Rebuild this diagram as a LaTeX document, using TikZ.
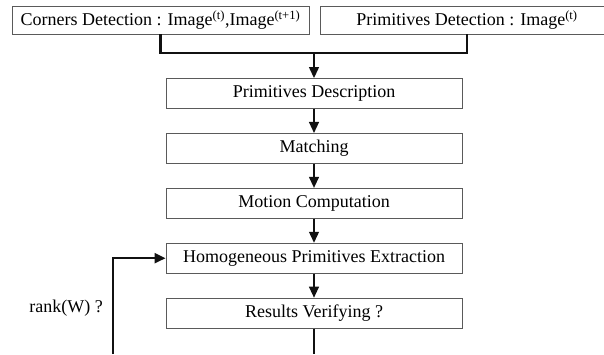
\documentclass[tikz,border=0pt]{standalone}
\usepackage{fontspec}
\setmainfont{Liberation Serif}
\usepackage{xcolor}
\usepackage{tikz}
\usetikzlibrary{arrows.meta, positioning, calc}
\definecolor{boxline}{HTML}{5A5A5A}
\definecolor{flowline}{HTML}{111111}

\begin{document}
\begin{tikzpicture}[x=1pt, y=-1pt,
    stage/.style={draw=boxline, line width=0.9pt, minimum width=296pt, minimum height=30pt, inner sep=0pt, font=\fontsize{18}{20}\selectfont},
    source/.style={stage, minimum height=28pt},
    flow/.style={draw=flowline, line width=1.3pt, -{Triangle[length=11pt, width=10pt]}},
    bar/.style={draw=flowline, line width=2.2pt},
    node distance=24pt]
  \useasboundingbox (0,0) rectangle (604,354);
  % input detections
  \node[source, minimum width=297pt] (corners) at (160.5,20) {Corners Detection : Image\textsuperscript{(t)},Image\textsuperscript{(t+1)}};
  \node[source, minimum width=294pt] (detect) at (467,20) {Primitives Detection : Image\textsuperscript{(t)}};
  % processing chain
  \node[stage] (describe) at (314,93.5) {Primitives Description};
  \node[stage, below=of describe] (matching) {Matching};
  \node[stage, below=of matching] (motion) {Motion Computation};
  \node[stage, below=of motion] (extract) {Homogeneous Primitives Extraction};
  \node[stage, below=of extract] (verify) {Results Verifying ?};
  \node[font=\fontsize{18}{20}\selectfont, anchor=east, inner sep=0pt] (rank) at (103,308) {rank(W) ?};
  % merge of both detections
  \coordinate (merge) at (314,53);
  \draw[bar] (corners.south) |- (merge) -| (detect.south);
  \draw[flow] (merge) -- (describe);
  \draw[flow] (describe) -- (matching);
  \draw[flow] (matching) -- (motion);
  \draw[flow] (motion) -- (extract);
  \draw[flow] (extract) -- (verify);
  % feedback loop
  \coordinate (verifyout) at (verify.south |- 0,354);
  \coordinate (loopin) at (113,354);
  \draw[draw=flowline, line width=1.3pt] (verify) -- (verifyout);
  \draw[flow, line width=2.2pt] (loopin) |- (extract.west);
\end{tikzpicture}
\end{document}
